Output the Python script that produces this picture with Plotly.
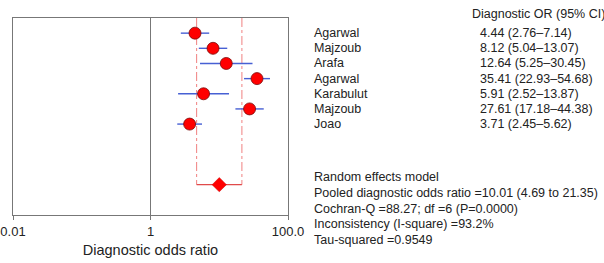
import plotly.graph_objects as go

studies = ["Agarwal", "Majzoub", "Arafa", "Agarwal", "Karabulut", "Majzoub", "Joao"]
or_vals = [4.44, 8.12, 12.64, 35.41, 5.91, 27.61, 3.71]
ci_lo = [2.76, 5.04, 5.25, 22.93, 2.52, 17.18, 2.45]
ci_hi = [7.14, 13.07, 30.45, 54.68, 13.87, 44.38, 5.62]
pooled = 10.01
pooled_lo = 4.69
pooled_hi = 21.35
stats_lines = [
    "Random effects model",
    "Pooled diagnostic odds ratio =10.01 (4.69 to 21.35)",
    "Cochran-Q =88.27; df =6 (P=0.0000)",
    "Inconsistency (I-square) =93.2%",
    "Tau-squared =0.9549",
]
tick_vals = [0.01, 1, 100]
tick_text = ["0.01", "1", "100.0"]

rows = list(range(1, len(studies) + 1))
pooled_row = 11

FONT = "Liberation Sans, Arial, Helvetica, sans-serif"
TXT = "#222222"
FS = 12.5

PLOT_TOP, PLOT_BOTTOM = 18, 215
def paper_y(py):
    return (PLOT_BOTTOM - py) / (PLOT_BOTTOM - PLOT_TOP)

fig = go.Figure()

# vertical line at OR = 1
fig.add_trace(go.Scatter(x=[1, 1], y=[0, 13], mode="lines",
                         line=dict(color="#777777", width=1), hoverinfo="skip"))
# dashed pooled CI lines
fig.add_trace(go.Scatter(x=[pooled_lo, pooled_lo, None, pooled_hi, pooled_hi],
                         y=[0, pooled_row, None, 0, pooled_row], mode="lines",
                         line=dict(color="#f08080", width=1, dash="dashdot"), hoverinfo="skip"))
# pooled horizontal line
fig.add_trace(go.Scatter(x=[pooled_lo, pooled_hi], y=[pooled_row, pooled_row], mode="lines",
                         line=dict(color="#e04a4a", width=1.2), hoverinfo="skip"))
# CI lines
xs, ys = [], []
for lo, hi, r in zip(ci_lo, ci_hi, rows):
    xs += [lo, hi, None]
    ys += [r, r, None]
fig.add_trace(go.Scatter(x=xs, y=ys, mode="lines",
                         line=dict(color="#4760d4", width=1.4), hoverinfo="skip"))
# study markers
fig.add_trace(go.Scatter(x=or_vals, y=rows, mode="markers",
                         marker=dict(symbol="circle", size=12, color="#ff0000",
                                     line=dict(color="#7a0a0a", width=0.8)),
                         hoverinfo="skip"))
# pooled diamond
fig.add_trace(go.Scatter(x=[pooled], y=[pooled_row], mode="markers",
                         marker=dict(symbol="diamond", size=11, color="#ff0000",
                                     line=dict(color="#cc0000", width=0.5)),
                         hoverinfo="skip"))

annotations = []
annotations.append(dict(x=1.661, y=paper_y(14), xref="paper", yref="paper", xanchor="left",
                        yanchor="middle", text="Diagnostic OR (95% CI)", showarrow=False,
                        font=dict(family=FONT, size=FS, color=TXT)))
for s, o, lo, hi, r in zip(studies, or_vals, ci_lo, ci_hi, rows):
    annotations.append(dict(x=1.088, y=r, xref="paper", yref="y", xanchor="left", yanchor="middle",
                            text=s, showarrow=False, font=dict(family=FONT, size=FS, color=TXT)))
    annotations.append(dict(x=1.690, y=r, xref="paper", yref="y", xanchor="left", yanchor="middle",
                            text=f"{o:.2f} ({lo:.2f}\u2013{hi:.2f})", showarrow=False,
                            font=dict(family=FONT, size=FS, color=TXT)))
stat_px = [177, 193, 208.5, 224, 240]
for line, py in zip(stats_lines, stat_px):
    annotations.append(dict(x=1.088, y=paper_y(py), xref="paper", yref="paper",
                            xanchor="left", yanchor="middle", text=line, showarrow=False,
                            font=dict(family=FONT, size=FS, color=TXT)))

fig.update_layout(
    width=604, height=263,
    margin=dict(l=12.5, r=315.5, t=18, b=48, autoexpand=False),
    paper_bgcolor="white", plot_bgcolor="white",
    showlegend=False,
    font=dict(family=FONT, color=TXT),
    annotations=annotations,
    xaxis=dict(type="log", range=[-2, 2], tickvals=tick_vals, ticktext=tick_text,
               automargin=False,
               showgrid=False, zeroline=False, showline=True, mirror=True,
               linecolor="#777777", linewidth=1, ticks="outside", ticklen=4,
               tickcolor="#777777", tickfont=dict(family=FONT, size=13, color=TXT),
               title=dict(text="Diagnostic odds ratio", standoff=7,
                          font=dict(family=FONT, size=14.5, color=TXT))),
    yaxis=dict(range=[13, 0], automargin=False, showgrid=False, zeroline=False,
               showline=True, mirror=True,
               linecolor="#777777", linewidth=1, showticklabels=False, ticks=""),
)

fig.write_html("out.html", config={"displayModeBar": False},
               post_script="document.body.style.margin='0';")
